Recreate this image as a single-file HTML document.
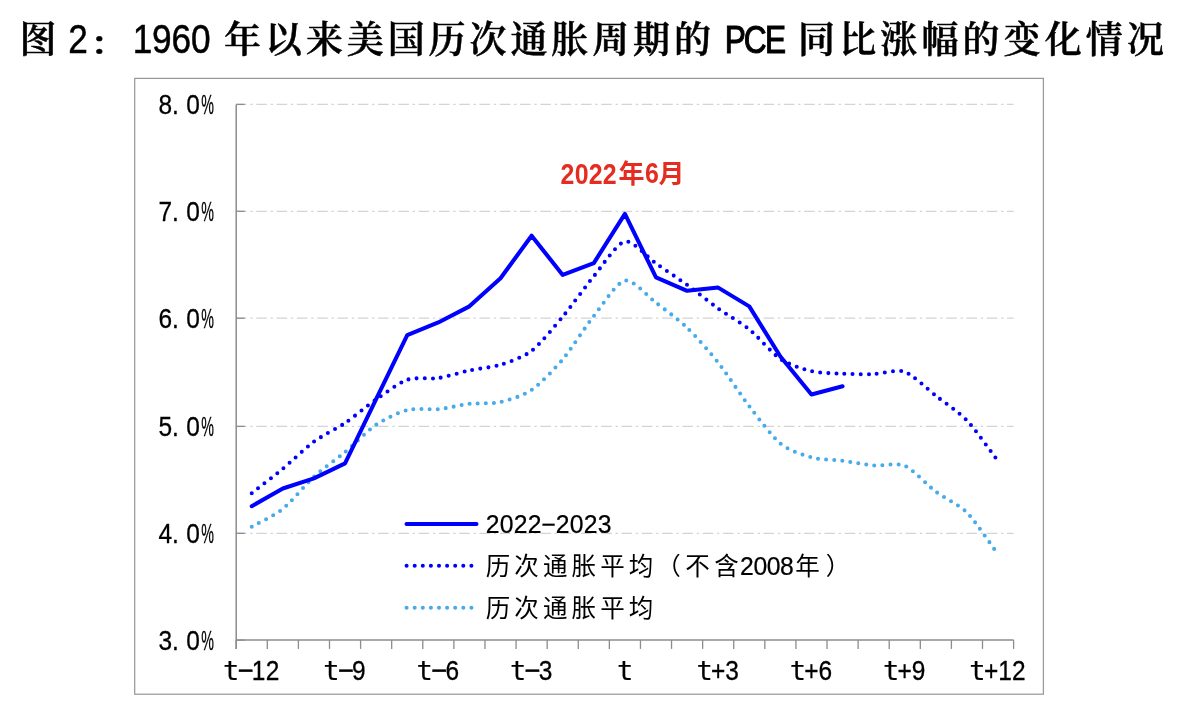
<!DOCTYPE html>
<html><head><meta charset="utf-8"><title>图2：1960年以来美国历次通胀周期的PCE同比涨幅的变化情况</title>
<style>
html,body{margin:0;padding:0;background:#fff;}
body{width:1194px;height:712px;overflow:hidden;}
svg{display:block;}
text{text-anchor:middle;}
.ax{font-family:"Liberation Sans","Noto Sans CJK SC",sans-serif;font-size:28.5px;fill:#000;stroke:#000;stroke-width:0.3px;}
.axt{font-family:"DejaVu Sans Mono","Liberation Mono",monospace;font-size:27px;fill:#000;stroke:#000;stroke-width:0.2px;}
.ttl{font-family:"Noto Serif CJK SC","Noto Sans CJK SC",serif;font-size:37px;font-weight:600;fill:#000;stroke:#000;stroke-width:0.5px;}
.ttlL{font-family:"Liberation Sans","Noto Sans CJK SC",sans-serif;font-size:40px;fill:#000;stroke:#000;stroke-width:0.5px;}
.ttlP{font-family:"Liberation Sans","Noto Sans CJK SC",sans-serif;font-size:39.5px;fill:#000;stroke:#000;stroke-width:1.1px;}
.lg{font-family:"Noto Sans CJK SC",sans-serif;font-size:24.5px;font-weight:400;fill:#000;}
.lgn{font-family:"Liberation Sans","Noto Sans CJK SC",sans-serif;font-size:25.5px;fill:#000;stroke:#000;stroke-width:0.25px;}
.ann{font-family:"Noto Sans CJK SC",sans-serif;font-size:26px;font-weight:700;fill:#e52c20;}
.annN{font-family:"Liberation Sans",sans-serif;font-size:29px;font-weight:700;fill:#e52c20;}
</style></head>
<body>
<svg width="1194" height="712" viewBox="0 0 1194 712">
<rect width="1194" height="712" fill="#fff"/>
<text class="ttl" x="37.90" y="52.50">图</text>
<text class="ttlL" transform="scale(0.88 1)" x="88.64" y="53.40">2</text>
<text class="ttl" transform="translate(108.5 54) scale(1 0.83)" x="0" y="0">：</text>
<text class="ttlL" transform="scale(0.88 1)" x="161.88 183.98 206.08 228.18" y="53.40">1960</text>
<text class="ttl" x="242.60 283.50 324.40 365.30 406.20 447.10 488.00 528.90 569.80 610.70 651.60 692.50" y="52.50">年以来美国历次通胀周期的</text>
<text class="ttlP" transform="scale(0.8 1)" x="919.00 943.88 969.50" y="52.90">PCE</text>
<text class="ttl" x="816.60 857.70 898.80 939.90 981.00 1022.10 1063.20 1104.30 1145.40" y="52.50">同比涨幅的变化情况</text>

<rect x="134.7" y="78.4" width="908.7" height="615.8" fill="#fff" stroke="#999" stroke-width="1.25"/>
<line x1="236.2" y1="533.30" x2="1013.6" y2="533.30" stroke="#d4d4d4" stroke-width="1.25" stroke-dasharray="10.6 3.7 2.4 3.59" stroke-dashoffset="0.2"/>
<line x1="236.2" y1="426.40" x2="1013.6" y2="426.40" stroke="#d4d4d4" stroke-width="1.25" stroke-dasharray="10.6 3.7 2.4 3.59" stroke-dashoffset="0.2"/>
<line x1="236.2" y1="318.20" x2="1013.6" y2="318.20" stroke="#d4d4d4" stroke-width="1.25" stroke-dasharray="10.6 3.7 2.4 3.59" stroke-dashoffset="0.2"/>
<line x1="236.2" y1="211.30" x2="1013.6" y2="211.30" stroke="#d4d4d4" stroke-width="1.25" stroke-dasharray="10.6 3.7 2.4 3.59" stroke-dashoffset="0.2"/>
<line x1="236.2" y1="104.40" x2="1013.6" y2="104.40" stroke="#d4d4d4" stroke-width="1.25" stroke-dasharray="10.6 3.7 2.4 3.59" stroke-dashoffset="0.2"/>

<line x1="236.2" y1="104.40" x2="236.2" y2="648.90" stroke="#8c8c8c" stroke-width="1.5"/>
<line x1="236.2" y1="640.10" x2="1013.6" y2="640.10" stroke="#8c8c8c" stroke-width="1.5"/>
<line x1="236.2" y1="640.10" x2="244.7" y2="640.10" stroke="#8c8c8c" stroke-width="1.3"/>
<line x1="236.2" y1="533.30" x2="244.7" y2="533.30" stroke="#8c8c8c" stroke-width="1.3"/>
<line x1="236.2" y1="426.40" x2="244.7" y2="426.40" stroke="#8c8c8c" stroke-width="1.3"/>
<line x1="236.2" y1="318.20" x2="244.7" y2="318.20" stroke="#8c8c8c" stroke-width="1.3"/>
<line x1="236.2" y1="211.30" x2="244.7" y2="211.30" stroke="#8c8c8c" stroke-width="1.3"/>
<line x1="236.2" y1="104.40" x2="244.7" y2="104.40" stroke="#8c8c8c" stroke-width="1.3"/>
<line x1="236.20" y1="640.10" x2="236.20" y2="648.90" stroke="#8c8c8c" stroke-width="1.3"/>
<line x1="267.30" y1="640.10" x2="267.30" y2="648.90" stroke="#8c8c8c" stroke-width="1.3"/>
<line x1="298.39" y1="640.10" x2="298.39" y2="648.90" stroke="#8c8c8c" stroke-width="1.3"/>
<line x1="329.49" y1="640.10" x2="329.49" y2="648.90" stroke="#8c8c8c" stroke-width="1.3"/>
<line x1="360.58" y1="640.10" x2="360.58" y2="648.90" stroke="#8c8c8c" stroke-width="1.3"/>
<line x1="391.68" y1="640.10" x2="391.68" y2="648.90" stroke="#8c8c8c" stroke-width="1.3"/>
<line x1="422.78" y1="640.10" x2="422.78" y2="648.90" stroke="#8c8c8c" stroke-width="1.3"/>
<line x1="453.87" y1="640.10" x2="453.87" y2="648.90" stroke="#8c8c8c" stroke-width="1.3"/>
<line x1="484.97" y1="640.10" x2="484.97" y2="648.90" stroke="#8c8c8c" stroke-width="1.3"/>
<line x1="516.06" y1="640.10" x2="516.06" y2="648.90" stroke="#8c8c8c" stroke-width="1.3"/>
<line x1="547.16" y1="640.10" x2="547.16" y2="648.90" stroke="#8c8c8c" stroke-width="1.3"/>
<line x1="578.26" y1="640.10" x2="578.26" y2="648.90" stroke="#8c8c8c" stroke-width="1.3"/>
<line x1="609.35" y1="640.10" x2="609.35" y2="648.90" stroke="#8c8c8c" stroke-width="1.3"/>
<line x1="640.45" y1="640.10" x2="640.45" y2="648.90" stroke="#8c8c8c" stroke-width="1.3"/>
<line x1="671.54" y1="640.10" x2="671.54" y2="648.90" stroke="#8c8c8c" stroke-width="1.3"/>
<line x1="702.64" y1="640.10" x2="702.64" y2="648.90" stroke="#8c8c8c" stroke-width="1.3"/>
<line x1="733.74" y1="640.10" x2="733.74" y2="648.90" stroke="#8c8c8c" stroke-width="1.3"/>
<line x1="764.83" y1="640.10" x2="764.83" y2="648.90" stroke="#8c8c8c" stroke-width="1.3"/>
<line x1="795.93" y1="640.10" x2="795.93" y2="648.90" stroke="#8c8c8c" stroke-width="1.3"/>
<line x1="827.02" y1="640.10" x2="827.02" y2="648.90" stroke="#8c8c8c" stroke-width="1.3"/>
<line x1="858.12" y1="640.10" x2="858.12" y2="648.90" stroke="#8c8c8c" stroke-width="1.3"/>
<line x1="889.22" y1="640.10" x2="889.22" y2="648.90" stroke="#8c8c8c" stroke-width="1.3"/>
<line x1="920.31" y1="640.10" x2="920.31" y2="648.90" stroke="#8c8c8c" stroke-width="1.3"/>
<line x1="951.41" y1="640.10" x2="951.41" y2="648.90" stroke="#8c8c8c" stroke-width="1.3"/>
<line x1="982.50" y1="640.10" x2="982.50" y2="648.90" stroke="#8c8c8c" stroke-width="1.3"/>
<line x1="1013.60" y1="640.10" x2="1013.60" y2="648.90" stroke="#8c8c8c" stroke-width="1.3"/>

<text class="ax" transform="scale(0.86 1)" x="192.33 203.95 224.53" y="650.00">3.0</text>
<text class="ax" transform="translate(207.6 650.0) scale(0.5 1)" x="0" y="0">%</text>
<text class="ax" transform="scale(0.86 1)" x="192.33 203.95 224.53" y="543.20">4.0</text>
<text class="ax" transform="translate(207.6 543.2) scale(0.5 1)" x="0" y="0">%</text>
<text class="ax" transform="scale(0.86 1)" x="192.33 203.95 224.53" y="436.30">5.0</text>
<text class="ax" transform="translate(207.6 436.3) scale(0.5 1)" x="0" y="0">%</text>
<text class="ax" transform="scale(0.86 1)" x="192.33 203.95 224.53" y="328.10">6.0</text>
<text class="ax" transform="translate(207.6 328.1) scale(0.5 1)" x="0" y="0">%</text>
<text class="ax" transform="scale(0.86 1)" x="192.33 203.95 224.53" y="221.20">7.0</text>
<text class="ax" transform="translate(207.6 221.2) scale(0.5 1)" x="0" y="0">%</text>
<text class="ax" transform="scale(0.86 1)" x="192.33 203.95 224.53" y="114.30">8.0</text>
<text class="ax" transform="translate(207.6 114.3) scale(0.5 1)" x="0" y="0">%</text>

<text class="axt" x="231.20" y="680.20">t</text>
<text class="ax" transform="scale(0.97 1)" x="253.40" y="680.50">−</text>
<text class="ax" transform="scale(0.86 1)" x="300.81 316.97" y="680.50">12</text>
<text class="axt" x="331.44" y="680.20">t</text>
<text class="ax" transform="scale(0.97 1)" x="356.74" y="680.50">−</text>
<text class="ax" transform="scale(0.86 1)" x="417.37" y="680.50">9</text>
<text class="axt" x="424.72" y="680.20">t</text>
<text class="ax" transform="scale(0.97 1)" x="452.91" y="680.50">−</text>
<text class="ax" transform="scale(0.86 1)" x="525.84" y="680.50">6</text>
<text class="axt" x="518.01" y="680.20">t</text>
<text class="ax" transform="scale(0.97 1)" x="549.08" y="680.50">−</text>
<text class="ax" transform="scale(0.86 1)" x="634.32" y="680.50">3</text>
<text class="axt" x="625.20" y="680.20">t</text>
<text class="axt" x="704.59" y="680.20">t</text>
<text class="ax" transform="scale(0.86 1)" x="835.10 851.27" y="680.50">+3</text>
<text class="axt" x="797.88" y="680.20">t</text>
<text class="ax" transform="scale(0.86 1)" x="943.58 959.74" y="680.50">+6</text>
<text class="axt" x="891.16" y="680.20">t</text>
<text class="ax" transform="scale(0.86 1)" x="1052.05 1068.21" y="680.50">+9</text>
<text class="axt" x="977.50" y="680.20">t</text>
<text class="ax" transform="scale(0.86 1)" x="1152.44 1168.61 1184.77" y="680.50">+12</text>

<path d="M251.75,526.75 C255.79,524.42 274.76,515.36 282.84,508.85 C290.93,502.35 305.86,484.09 313.94,476.71 C322.02,469.33 336.95,458.82 345.04,452.07 C353.12,445.31 368.05,430.22 376.13,424.75 C384.22,419.27 399.14,411.98 407.23,409.96 C415.31,407.94 430.24,410.01 438.32,409.21 C446.41,408.42 461.34,404.79 469.42,403.86 C477.50,402.92 492.43,403.85 500.52,402.03 C508.60,400.22 523.53,395.47 531.61,389.93 C539.70,384.38 554.62,369.00 562.71,359.39 C570.79,349.78 585.72,326.25 593.80,316.00 C601.89,305.75 616.82,282.27 624.90,280.54 C632.98,278.81 647.91,296.57 656.00,302.72 C664.08,308.86 679.01,320.00 687.09,327.79 C695.18,335.57 710.10,352.40 718.19,362.61 C726.27,372.82 741.20,395.80 749.28,406.32 C757.37,416.84 772.30,436.85 780.38,443.50 C788.46,450.14 803.39,455.18 811.48,457.43 C819.56,459.67 834.49,459.70 842.57,460.75 C850.66,461.79 865.58,464.81 873.67,465.46 C881.75,466.12 896.68,462.37 904.76,465.78 C912.85,469.20 927.78,485.62 935.86,491.71 C943.94,497.80 958.87,504.46 966.96,512.60 C975.04,520.75 994.01,548.96 998.05,554.39" fill="none" stroke="#47aaea" stroke-width="4.05" stroke-dasharray="0 8.10" stroke-linecap="round"/>
<path d="M251.75,493.21 C255.79,490.02 274.76,475.38 282.84,468.68 C290.93,461.98 305.86,447.61 313.94,441.68 C322.02,435.74 336.95,428.52 345.04,423.03 C353.12,417.55 368.05,405.09 376.13,399.46 C384.22,393.84 399.14,382.54 407.23,379.75 C415.31,376.96 430.24,379.25 438.32,378.04 C446.41,376.82 461.34,372.16 469.42,370.43 C477.50,368.70 492.43,367.30 500.52,364.75 C508.60,362.20 523.53,357.08 531.61,350.82 C539.70,344.57 554.62,326.34 562.71,316.64 C570.79,306.95 585.72,286.02 593.80,276.25 C601.89,266.49 616.82,243.20 624.90,241.54 C632.98,239.88 647.91,257.86 656.00,263.50 C664.08,269.14 679.01,279.08 687.09,284.93 C695.18,290.78 710.10,302.72 718.19,308.50 C726.27,314.28 741.20,322.83 749.28,329.39 C757.37,335.95 772.30,353.53 780.38,358.96 C788.46,364.40 803.39,369.26 811.48,371.18 C819.56,373.10 834.49,373.37 842.57,373.75 C850.66,374.13 865.58,374.32 873.67,374.07 C881.75,373.82 896.68,368.99 904.76,371.82 C912.85,374.65 927.78,389.50 935.86,395.82 C943.94,402.14 958.87,411.97 966.96,420.46 C975.04,428.96 994.01,455.88 998.05,461.18" fill="none" stroke="#0000ff" stroke-width="4.05" stroke-dasharray="0 8.10" stroke-linecap="round"/>
<polyline points="251.75,506.18 282.84,488.50 313.94,478.32 345.04,463.32 376.13,399.04 407.23,335.18 438.32,322.43 469.42,306.36 500.52,278.18 531.61,235.75 562.71,274.97 593.80,263.07 624.90,213.90 656.00,277.43 687.09,290.82 718.19,287.61 749.28,306.36 780.38,356.50 811.48,394.43 842.57,386.29" fill="none" stroke="#0000ff" stroke-width="4.05" stroke-linejoin="round" stroke-linecap="round"/>
<text class="annN" transform="scale(0.86 1)" x="659.88 676.28 692.67 709.07" y="183.70">2022</text>
<text class="ann" x="631.40" y="183.00">年</text>
<text class="annN" transform="scale(0.86 1)" x="758.14" y="183.20">6</text>
<text class="ann" x="671.40" y="183.00">月</text>

<line x1="406.5" y1="523.9" x2="476.5" y2="523.9" stroke="#0000ff" stroke-width="4.05" stroke-linecap="round"/>
<line x1="406.6" y1="565.8" x2="473" y2="565.8" stroke="#0000ff" stroke-width="4.05" stroke-dasharray="0 8.10" stroke-linecap="round"/>
<line x1="406.6" y1="607.8" x2="473" y2="607.8" stroke="#47aaea" stroke-width="4.05" stroke-dasharray="0 8.10" stroke-linecap="round"/>
<text class="lgn" transform="scale(0.97 1)" x="507.84 522.27 536.70 551.13 565.57 580.00 594.43 608.87 623.30" y="533.30">2022−2023</text>
<text class="lg" x="498.00 526.60 555.20 583.80 612.40 641.00" y="574.50">历次通胀平均</text>
<text class="lg" x="668.60 697.40 726.40" y="574.50">（不含</text>
<text class="lgn" transform="scale(0.97 1)" x="770.10 783.81 797.53 811.24" y="575.00">2008</text>
<text class="lg" x="807.50 838.00" y="574.50">年）</text>
<text class="lg" x="498.00 526.60 555.20 583.80 612.40 641.00" y="616.50">历次通胀平均</text>

</svg>
</body></html>
